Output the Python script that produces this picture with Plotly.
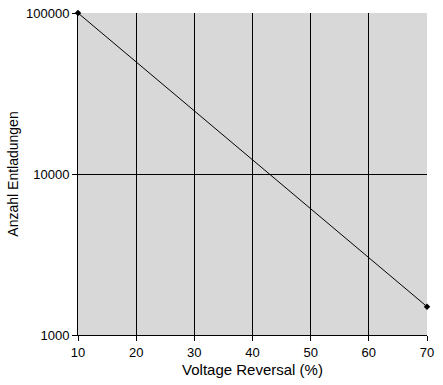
import plotly.graph_objects as go

voltage_reversal = [10, 70]
discharges = [100000, 1500]
x_ticks = [10, 20, 30, 40, 50, 60, 70]
y_ticks = [1000, 10000, 100000]
y_tick_labels = ["1000", "10000", "100000"]

fig = go.Figure()
fig.add_trace(go.Scatter(
    x=voltage_reversal, y=discharges, mode="lines+markers",
    line=dict(color="black", width=1),
    marker=dict(color="black", size=5, symbol="diamond"),
    showlegend=False, cliponaxis=False,
))

font = dict(family="Liberation Sans, Arial, sans-serif", size=13, color="black")
fig.update_layout(
    width=443, height=385,
    margin=dict(l=78, r=16, t=13, b=50, autoexpand=False),
    paper_bgcolor="white", plot_bgcolor="#D8D8D8",
    font=font,
    xaxis=dict(
        range=[10, 70], tickvals=x_ticks, ticks="outside", ticklen=5,
        tickcolor="black", showgrid=True, gridcolor="black", gridwidth=1,
        showline=True, linecolor="black", linewidth=1, zeroline=False,
        automargin=False,
        title=dict(text="Voltage Reversal (%)", standoff=5, font=dict(size=15)),
        tickfont=dict(size=13),
    ),
    yaxis=dict(
        type="log", range=[3, 5], tickvals=y_ticks, ticktext=y_tick_labels,
        ticks="outside", ticklen=5, tickcolor="black",
        showgrid=True, gridcolor="black", gridwidth=1,
        showline=True, linecolor="black", linewidth=1, zeroline=False,
        automargin=False,
        title=dict(text="Anzahl Entladungen", standoff=4, font=dict(size=14)),
        tickfont=dict(size=13),
    ),
)
fig.write_html("out.html", config={"displayModeBar": False},
               post_script="document.body.style.margin='0';")
